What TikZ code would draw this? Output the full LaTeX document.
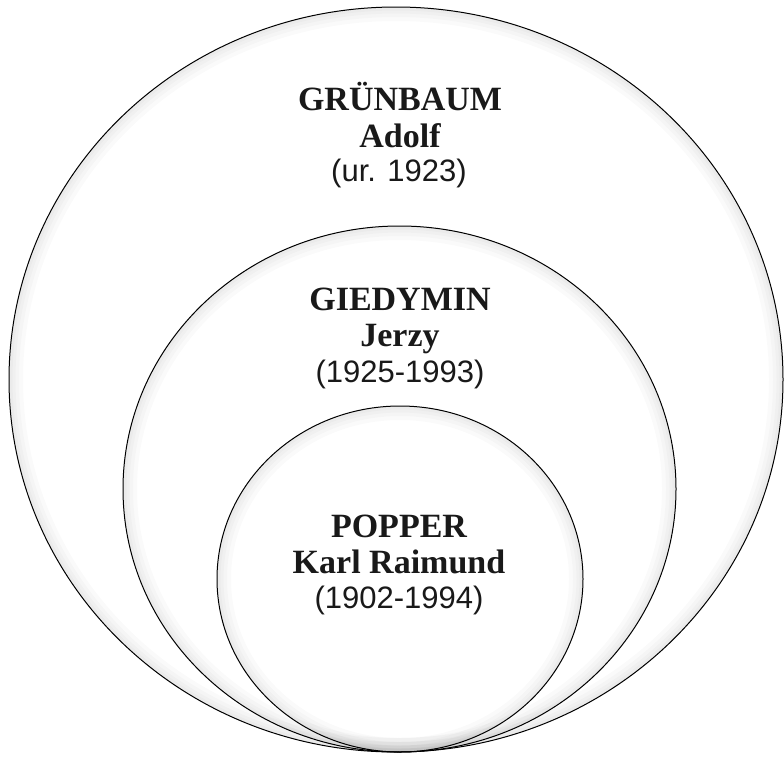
\documentclass[tikz,border=0pt]{standalone}
\usepackage{fontspec}
\setmainfont{Liberation Serif}
\newfontfamily\datefont{Liberation Sans}
\begin{document}
\begin{tikzpicture}[x=1pt,y=-1pt,
  ring/.style={draw=black, line width=1pt},
  namebold/.style={anchor=base, font=\fontsize{34}{40}\selectfont\bfseries, text=black!90, inner sep=0pt},
  datetext/.style={anchor=base, font=\fontsize{31}{36}\selectfont\datefont, text=black!90, inner sep=0pt}]
\useasboundingbox (0,0) rectangle (784,758);
\fill[white] (0,0) rectangle (784,758);
% soft inner glow
\foreach \cx/\cy/\rx/\ry in {396/379.5/387/372.5, 399.5/489/276.5/263, 400/579/183/173}{
  \begin{scope}
    \clip (\cx,\cy) ellipse [x radius=\rx, y radius=\ry];
    \foreach \w in {28,20,13,7}{
      \draw[line width=\w pt, black, opacity=0.02] (\cx,\cy) ellipse [x radius=\rx, y radius=\ry];
    }
  \end{scope}
}
\draw[ring] (396,379.5) ellipse [x radius=387, y radius=372.5];
\draw[ring] (399.5,489) ellipse [x radius=276.5, y radius=263];
\draw[ring] (400,579) ellipse [x radius=183, y radius=173];
% texts
\node[namebold] (g1) at (400,110) {GRÜNBAUM};
\node[namebold] (g2) at (400,147) {Adolf};
\node[datetext] (g3) at (399,181) {(ur. 1923)};
\node[namebold] (h1) at (400,310) {GIEDYMIN};
\node[namebold] (h2) at (400,346) {Jerzy};
\node[datetext] (h3) at (400,382) {(1925-1993)};
\node[namebold] (p1) at (399,537) {POPPER};
\node[namebold] (p2) at (399,573) {Karl Raimund};
\node[datetext] (p3) at (399,608) {(1902-1994)};
\end{tikzpicture}
\end{document}
